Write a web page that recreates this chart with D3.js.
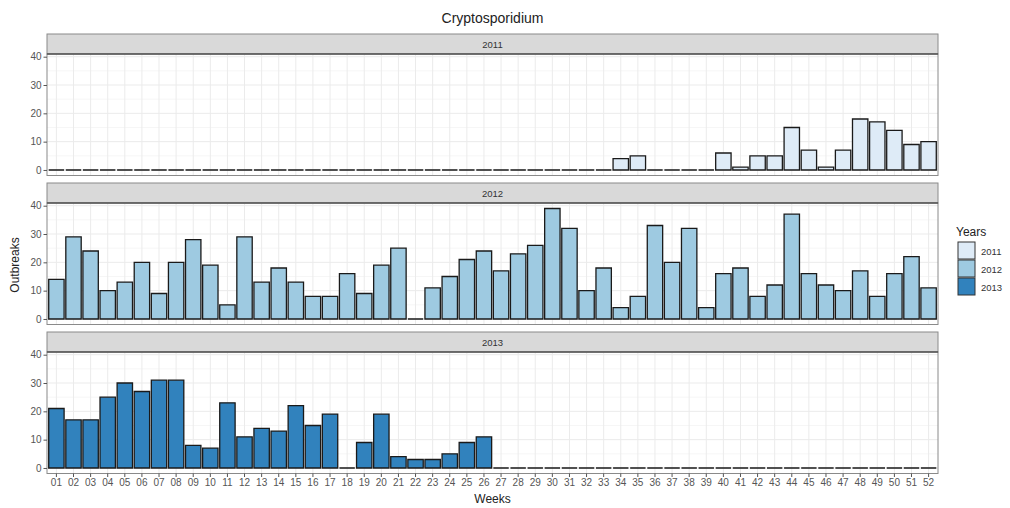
<!DOCTYPE html>
<html>
<head>
<meta charset="utf-8">
<script src="https://cdn.jsdelivr.net/npm/d3@7"></script>
<style>
body{margin:0;background:#fff;}
text{font-family:"Liberation Sans",Arial,sans-serif;}
</style>
</head>
<body>
<svg id="chart" width="1010" height="508"></svg>
<script>
const weeks = d3.range(1,53).map(d => String(d).padStart(2,"0"));
const years = ["2011","2012","2013"];
const values2011 = [0,0,0,0,0,0,0,0,0,0,0,0,0,0,0,0,0,0,0,0,0,0,0,0,0,0,0,0,0,0,0,0,0,4,5,0,0,0,0,6,1,5,5,15,7,1,7,18,17,14,9,10];
const values2012 = [14,29,24,10,13,20,9,20,28,19,5,29,13,18,13,8,8,16,9,19,25,0,11,15,21,24,17,23,26,39,32,10,18,4,8,33,20,32,4,16,18,8,12,37,16,12,10,17,8,16,22,11];
const values2013 = [21,17,17,25,30,27,31,31,8,7,23,11,14,13,22,15,19,0,9,19,4,3,3,5,9,11,0,0,0,0,0,0,0,0,0,0,0,0,0,0,0,0,0,0,0,0,0,0,0,0,0,0];
const yTicks = [0,10,20,30,40];
const colors = ["#deebf7","#9ecae1","#3182bd"];
const seriesValues = [values2011, values2012, values2013];

const svg = d3.select("#chart");
const left = 47, right = 938;
const panels = [
  {strip:[34,54], panel:[54,175.5]},
  {strip:[183,203], panel:[203,324.5]},
  {strip:[332,352], panel:[352,473.5]}
];

const x = d3.scaleBand().domain(weeks).range([left,right]).paddingInner(0.1).paddingOuter(0.1);
const xc = d => x(d) + x.bandwidth()/2;

// title
svg.append("text").attr("x",(left+right)/2).attr("y",23).attr("text-anchor","middle")
  .attr("font-size",14).attr("fill","#222").text("Cryptosporidium");

years.forEach((yr,i) => {
  const p = panels[i];
  const y = d3.scaleLinear().domain([-1.95,40.95]).range([p.panel[1],p.panel[0]]);
  const g = svg.append("g");
  // strip
  g.append("rect").attr("x",left).attr("y",p.strip[0]).attr("width",right-left).attr("height",p.strip[1]-p.strip[0])
    .attr("fill","#d9d9d9").attr("stroke","#8a8a8a").attr("stroke-width",1);
  g.append("text").attr("x",(left+right)/2).attr("y",(p.strip[0]+p.strip[1])/2+3.5).attr("text-anchor","middle")
    .attr("font-size",9.5).attr("fill","#333").text(yr);
  // panel bg
  g.append("rect").attr("x",left).attr("y",p.panel[0]).attr("width",right-left).attr("height",p.panel[1]-p.panel[0]).attr("fill","#fff");
  // minor grid
  [5,15,25,35].forEach(v => g.append("line").attr("x1",left).attr("x2",right).attr("y1",y(v)).attr("y2",y(v))
    .attr("stroke","#f4f4f4").attr("stroke-width",0.8));
  // major grid
  yTicks.forEach(v => g.append("line").attr("x1",left).attr("x2",right).attr("y1",y(v)).attr("y2",y(v))
    .attr("stroke","#ebebeb").attr("stroke-width",1));
  weeks.forEach(w => g.append("line").attr("x1",xc(w)).attr("x2",xc(w)).attr("y1",p.panel[0]).attr("y2",p.panel[1])
    .attr("stroke","#ebebeb").attr("stroke-width",1));
  // bars (paths so zero-height bars still show their outline)
  g.selectAll("path.bar").data(weeks.map((w,j)=>({w, v:seriesValues[i][j]}))).enter().append("path")
    .attr("class","bar")
    .attr("d",d => {
      const x0 = x(d.w), x1 = x0 + x.bandwidth(), y0 = y(0), y1 = y(d.v);
      return `M${x0},${y0}H${x1}V${y1}H${x0}Z`;
    })
    .attr("fill",colors[i]).attr("stroke","#1a1a1a").attr("stroke-width",1.3);
  // border
  g.append("rect").attr("x",left).attr("y",p.panel[0]).attr("width",right-left).attr("height",p.panel[1]-p.panel[0])
    .attr("fill","none").attr("stroke","#8a8a8a").attr("stroke-width",1);
  g.append("line").attr("x1",left).attr("x2",right).attr("y1",p.panel[0]).attr("y2",p.panel[0])
    .attr("stroke","#555").attr("stroke-width",1.5);
  // y axis
  const ya = g.append("g").attr("transform",`translate(${left},0)`)
    .call(d3.axisLeft(y).tickValues(yTicks).tickSize(3.5).tickPadding(2));
  ya.select(".domain").remove();
  ya.selectAll("line").attr("stroke","#555");
  ya.selectAll("text").attr("font-size",10).attr("fill","#555").style("font-family","Liberation Sans, Arial, sans-serif");
  if (i===2) {
    const xa = g.append("g").attr("transform",`translate(0,${p.panel[1]})`)
      .call(d3.axisBottom(x).tickSize(3.5).tickPadding(2));
    xa.select(".domain").remove();
    xa.selectAll("line").attr("stroke","#555");
    xa.selectAll("text").attr("font-size",10).attr("fill","#555").style("font-family","Liberation Sans, Arial, sans-serif");
  }
});

// axis titles
svg.append("text").attr("x",(left+right)/2).attr("y",503).attr("text-anchor","middle")
  .attr("font-size",12).attr("fill","#222").text("Weeks");
svg.append("text").attr("transform","translate(19,265) rotate(-90)").attr("text-anchor","middle")
  .attr("font-size",12).attr("fill","#222").text("Outbreaks");

// legend
const lg = svg.append("g");
lg.append("text").attr("x",956).attr("y",236).attr("font-size",12).attr("fill","#222").text("Years");
years.forEach((yr,i) => {
  const yy = 242 + i*18;
  lg.append("rect").attr("x",958).attr("y",yy).attr("width",17).attr("height",17)
    .attr("fill",colors[i]).attr("stroke","#333").attr("stroke-width",1);
  lg.append("text").attr("x",981).attr("y",yy+12.5).attr("font-size",9.5).attr("fill","#333").text(yr);
});
</script>
</body>
</html>
